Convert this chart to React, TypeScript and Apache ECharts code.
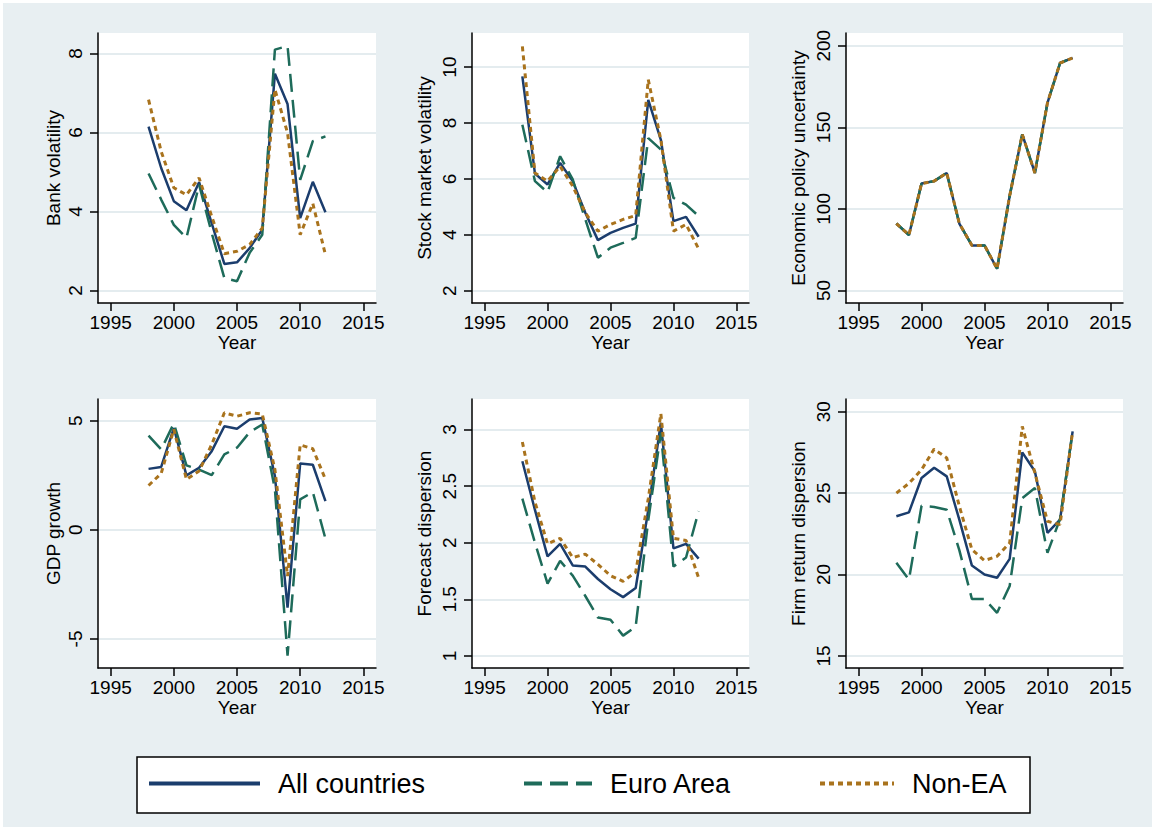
import React, { useEffect, useRef } from "react";
import * as echarts from "echarts";

// ---------------- data ----------------
const years = [1998, 1999, 2000, 2001, 2002, 2003, 2004, 2005, 2006, 2007, 2008, 2009, 2010, 2011, 2012];
const xTicks = [1995, 2000, 2005, 2010, 2015];

const bankAll = [6.15, 5.1, 4.26, 4.03, 4.74, 3.7, 2.67, 2.71, 3.07, 3.54, 7.49, 6.72, 3.83, 4.75, 3.98];
const bankEA = [4.96, 4.3, 3.66, 3.33, 4.68, 3.45, 2.31, 2.23, 2.95, 3.41, 8.1, 8.19, 4.8, 5.78, 5.9];
const bankNon = [6.83, 5.52, 4.6, 4.42, 4.85, 3.87, 2.93, 2.99, 3.16, 3.58, 7.09, 5.99, 3.41, 4.2, 2.9];
const bankTicks = [2, 4, 6, 8];

const stockAll = [9.67, 6.19, 5.8, 6.57, 5.92, 4.79, 3.81, 4.07, 4.25, 4.4, 8.83, 7.4, 4.49, 4.64, 3.93];
const stockEA = [7.94, 5.92, 5.52, 6.81, 5.98, 4.55, 3.18, 3.54, 3.71, 3.89, 7.46, 7.05, 5.32, 5.08, 4.67];
const stockNon = [10.74, 6.21, 5.92, 6.45, 5.74, 4.79, 4.13, 4.37, 4.55, 4.69, 9.55, 7.4, 4.13, 4.37, 3.5];
const stockTicks = [2, 4, 6, 8, 10];

const epuAll = [91, 84, 115.5, 117, 122, 91, 77.6, 77.6, 63.3, 108, 145.7, 122, 165, 189.4, 192.5];
const epuEA = [91, 84, 115.5, 117, 122, 91, 77.6, 77.6, 63.3, 108, 145.7, 122, 165, 189.4, 192.5];
const epuNon = [91, 84, 115.5, 117, 122, 91, 77.6, 77.6, 63.3, 108, 145.7, 122, 165, 189.4, 192.5];
const epuTicks = [50, 100, 150, 200];

const gdpAll = [2.79, 2.88, 4.66, 2.49, 2.84, 3.6, 4.74, 4.63, 5.05, 5.12, 2.46, -3.57, 3.04, 2.98, 1.31];
const gdpEA = [4.31, 3.68, 4.87, 2.95, 2.76, 2.5, 3.45, 3.76, 4.47, 4.82, 1.85, -5.76, 1.39, 1.73, -0.41];
const gdpNon = [2.03, 2.58, 4.6, 2.31, 2.69, 3.91, 5.36, 5.2, 5.36, 5.3, 2.76, -2.12, 3.89, 3.71, 2.31];
const gdpTicks = [-5, 0, 5];

const fcAll = [2.72, 2.29, 1.88, 1.99, 1.8, 1.79, 1.68, 1.59, 1.52, 1.6, 2.29, 3.06, 1.95, 1.99, 1.86];
const fcEA = [2.39, 2.0, 1.64, 1.84, 1.71, 1.53, 1.34, 1.32, 1.18, 1.26, 2.2, 2.97, 1.79, 1.87, 2.28];
const fcNon = [2.89, 2.36, 1.99, 2.04, 1.87, 1.9, 1.81, 1.71, 1.66, 1.74, 2.39, 3.14, 2.04, 2.02, 1.69];
const fcTicks = [1, 1.5, 2, 2.5, 3];

const frAll = [23.58, 23.82, 25.93, 26.56, 26.03, 23.37, 20.55, 20.0, 19.8, 20.96, 27.5, 26.34, 22.56, 23.37, 28.79];
const frEA = [20.72, 19.69, 24.22, 24.15, 23.98, 21.5, 18.5, 18.5, 17.65, 19.3, 24.69, 25.31, 21.33, 23.41, 28.79];
const frNon = [25.0, 25.6, 26.44, 27.7, 27.16, 24.2, 21.53, 20.86, 21.12, 21.94, 29.1, 26.24, 23.27, 23.07, 28.79];
const frTicks = [15, 20, 25, 30];

const seriesNames = ["All countries", "Euro Area", "Non-EA"];

const panels = [
  { title: "Bank volatility", series: [bankAll, bankEA, bankNon], ticks: bankTicks, min: 1.68, max: 8.52 },
  { title: "Stock market volatility", series: [stockAll, stockEA, stockNon], ticks: stockTicks, min: 1.56, max: 11.22 },
  { title: "Economic policy uncertainty", series: [epuAll, epuEA, epuNon], ticks: epuTicks, min: 42.3, max: 207.8 },
  { title: "GDP growth", series: [gdpAll, gdpEA, gdpNon], ticks: gdpTicks, min: -6.33, max: 5.99 },
  { title: "Forecast dispersion", series: [fcAll, fcEA, fcNon], ticks: fcTicks, min: 0.894, max: 3.27 },
  { title: "Firm return dispersion", series: [frAll, frEA, frNon], ticks: frTicks, min: 14.26, max: 30.78 },
];

// ---------------- layout / style ----------------
const FONT = "'Liberation Sans', Arial, Helvetica, sans-serif";
const gridBoxes = [
  { left: 98, top: 33, width: 278, height: 270, nameGap: 35 },
  { left: 472, top: 33, width: 277, height: 270, nameGap: 38 },
  { left: 846, top: 33, width: 277, height: 270, nameGap: 38 },
  { left: 98, top: 399, width: 278, height: 269, nameGap: 35 },
  { left: 472, top: 399, width: 277, height: 269, nameGap: 38 },
  { left: 846, top: 399, width: 277, height: 269, nameGap: 38 },
];
const lineStyles = [
  { color: "#1b3d6d", width: 2.5, type: "solid" },
  { color: "#1e6b5a", width: 2.5, type: [18, 8] },
  { color: "#a9731d", width: 3, type: [5, 4] },
];
const legendPos = [
  { left: 147, itemWidth: 111 },
  { left: 522, itemWidth: 68 },
  { left: 818, itemWidth: 74 },
];

function buildOption() {
  const fmt = (v: number) => String(v);
  const grid = gridBoxes.map((g) => ({
    left: g.left,
    top: g.top,
    width: g.width,
    height: g.height,
    show: true,
    backgroundColor: "#ffffff",
    borderWidth: 0,
    containLabel: false,
    outerBoundsMode: "none",
  }));
  const xAxis = panels.map((_, i) => ({
    gridIndex: i,
    type: "value",
    min: 1994,
    max: 2016,
    name: "Year",
    nameLocation: "middle",
    nameGap: 30,
    nameTextStyle: { fontSize: 19, color: "#000", fontFamily: FONT },
    axisLine: { show: true, onZero: false, lineStyle: { color: "#000", width: 1.5 } },
    axisTick: { show: true, customValues: xTicks, length: 8, lineStyle: { color: "#000", width: 1.5 } },
    axisLabel: { show: true, customValues: xTicks, formatter: fmt, fontSize: 19, color: "#000", margin: 10, fontFamily: FONT },
    splitLine: { show: false },
  }));
  const yAxis = panels.map((p, i) => ({
    gridIndex: i,
    type: "value",
    min: p.min,
    max: p.max,
    name: p.title,
    nameLocation: "middle",
    nameGap: gridBoxes[i].nameGap,
    nameRotate: 90,
    nameTextStyle: { fontSize: 19, color: "#000", fontFamily: FONT },
    axisLine: { show: true, onZero: false, lineStyle: { color: "#000", width: 1.5 } },
    axisTick: { show: true, customValues: p.ticks, length: 8, lineStyle: { color: "#000", width: 1.5 } },
    axisLabel: { show: true, customValues: p.ticks, formatter: fmt, rotate: 90, fontSize: 19, color: "#000", margin: 13, fontFamily: FONT },
    splitLine: { show: true, lineStyle: { color: "#e4ecef", width: 2 } },
  }));
  const series: any[] = [];
  panels.forEach((p, i) => {
    p.series.forEach((vals, k) => {
      series.push({
        type: "line",
        name: seriesNames[k],
        xAxisIndex: i,
        yAxisIndex: i,
        symbol: "none",
        showSymbol: false,
        silent: true,
        lineStyle: lineStyles[k],
        data: years.map((yr, j) => [yr, vals[j]]),
        z: 2 + k,
      });
    });
  });
  const legend = seriesNames.map((nm, k) => ({
    data: [nm],
    left: legendPos[k].left,
    top: 770,
    z: 20,
    selectedMode: false,
    itemWidth: legendPos[k].itemWidth,
    itemHeight: 14,
    itemGap: 0,
    padding: 0,
    itemStyle: { opacity: 0 },
    lineStyle: { width: 4 },
    textStyle: { fontSize: 27, color: "#000", fontFamily: FONT, padding: [0, 0, 0, 13] },
  }));
  return {
    animation: false,
    backgroundColor: "#e8eff2",
    grid,
    xAxis,
    yAxis,
    series,
    legend,
    graphic: {
      elements: [
        { type: "rect", shape: { x: 0, y: 0, width: 1152, height: 3 }, style: { fill: "#ffffff" }, silent: true },
        { type: "rect", shape: { x: 0, y: 0, width: 3, height: 827 }, style: { fill: "#ffffff" }, silent: true },
        {
          type: "rect",
          shape: { x: 137, y: 757, width: 893, height: 56 },
          style: { fill: "#ffffff", stroke: "#000", lineWidth: 1.5 },
          silent: true,
        },
      ],
    },
  };
}

export default function App() {
  const ref = useRef<HTMLDivElement>(null);
  useEffect(() => {
    const chart = echarts.init(ref.current as HTMLDivElement, null, { renderer: "svg" });
    chart.setOption(buildOption() as any);
    return () => chart.dispose();
  }, []);
  return (
    <div
      ref={ref}
      style={{ position: "absolute", left: 0, top: 0, width: 1152, height: 827, background: "#fff" }}
    />
  );
}
